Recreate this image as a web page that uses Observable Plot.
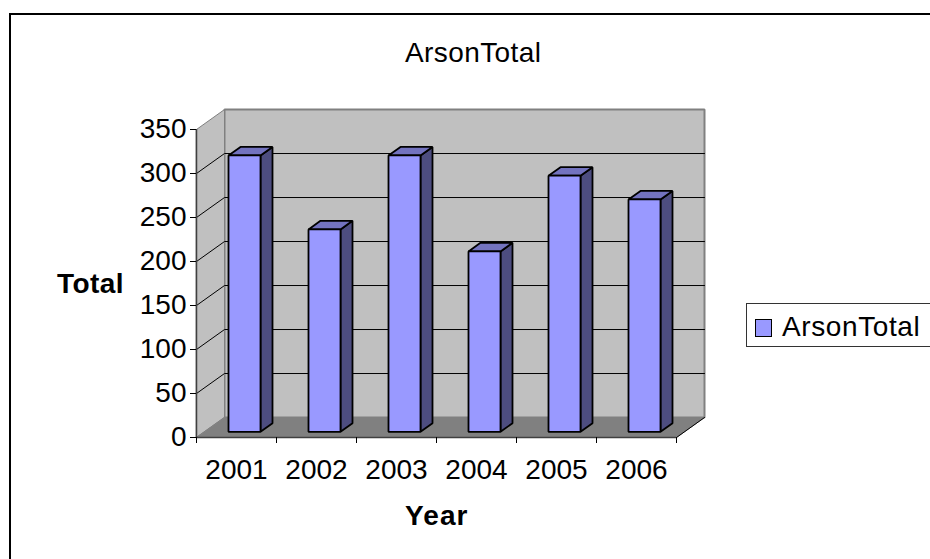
<!DOCTYPE html>
<html>
<head>
<meta charset="utf-8">
<script src="https://cdn.jsdelivr.net/npm/d3@7"></script>
<script src="https://cdn.jsdelivr.net/npm/@observablehq/plot@0.6"></script>
<style>
html,body{margin:0;padding:0;background:#fff;width:930px;height:559px;overflow:hidden;font-family:"Liberation Sans",Arial,sans-serif;color:#000}
#frame{position:absolute;left:8.5px;top:12.5px;width:1000px;height:1000px;border:2.5px solid #000;box-sizing:border-box}
.t{position:absolute;white-space:nowrap;line-height:1}
#chart{position:absolute;left:0;top:0}
#legend{position:absolute;left:745.5px;top:303px;width:300px;height:44px;border:1px solid #333;box-sizing:border-box;background:#fff}
#swatch{position:absolute;left:8px;top:15px;width:17.5px;height:17.5px;background:#9999FF;border:1.5px solid #000;box-sizing:border-box}
#legtext{position:absolute;left:35.5px;top:9px;font-size:28px;line-height:1;letter-spacing:.6px;white-space:nowrap}
</style>
</head>
<body>
<div id="frame"></div>
<div id="chart"></div>
<div class="t" id="title" style="left:405px;top:39px;font-size:28px;letter-spacing:.4px">ArsonTotal</div>
<div class="t" style="left:57px;top:269.5px;font-size:28px;font-weight:bold;letter-spacing:.4px">Total</div>
<div class="t" style="left:405px;top:502px;font-size:28px;font-weight:bold;letter-spacing:1.1px">Year</div>
<div id="legend"><div id="swatch"></div><div id="legtext">ArsonTotal</div></div>
<script>
const years = [2001, 2002, 2003, 2004, 2005, 2006];
const arsonTotal = [314, 230, 314, 205, 291, 264];
const yTicks = [0, 50, 100, 150, 200, 250, 300, 350];
const xEdges = [2000.5, 2001.5, 2002.5, 2003.5, 2004.5, 2005.5, 2006.5];

// Depth of the 3D box, in data units of each scale
const depthX = 0.35, depthY = 22.7;
const barHalf = 0.2, barNear = 8 / 28, barFar = 20 / 28;
const xMin = xEdges[0], xMax = xEdges[xEdges.length - 1], yMax = 350;

const pt = (x, v, d) => ({x: x + d * depthX, y: v + d * depthY});
const poly = (points, fill, stroke, strokeWidth) =>
  Plot.line(points, {x: "x", y: "y", fill, stroke, strokeWidth, curve: "linear-closed", strokeLinejoin: "miter"});

const backWall = [pt(xMin,0,1), pt(xMax,0,1), pt(xMax,yMax,1), pt(xMin,yMax,1)];
const sideWall = [pt(xMin,0,0), pt(xMin,0,1), pt(xMin,yMax,1), pt(xMin,yMax,0)];
const floor = [pt(xMin,0,0), pt(xMax,0,0), pt(xMax,0,1), pt(xMin,0,1)];

const grid = yTicks.slice(1, -1).flatMap(v => [
  {...pt(xMin,v,0), v}, {...pt(xMin,v,1), v}, {...pt(xMax,v,1), v}
]);

const barMarks = years.flatMap((yr, i) => {
  const v = arsonTotal[i], l = yr - barHalf, r = yr + barHalf;
  return [
    poly([pt(r,0,barNear), pt(r,0,barFar), pt(r,v,barFar), pt(r,v,barNear)], "#4D4D80", "#000", 1.8),
    poly([pt(l,v,barNear), pt(r,v,barNear), pt(r,v,barFar), pt(l,v,barFar)], "#7373BF", "#000", 1.8),
    poly([pt(l,0,barNear), pt(r,0,barNear), pt(r,v,barNear), pt(l,v,barNear)], "#9999FF", "#000", 1.8)
  ];
});

const chart = Plot.plot({
  width: 930,
  height: 559,
  marginLeft: 196,
  marginRight: 254,
  marginTop: 129,
  marginBottom: 122,
  style: {background: "transparent", fontFamily: "'Liberation Sans', Arial, sans-serif", color: "#000", overflow: "visible"},
  x: {type: "linear", domain: [xMin, xMax]},
  y: {type: "linear", domain: [0, yMax]},
  marks: [
    poly(backWall, "#C0C0C0", "#808080", 2),
    poly(sideWall, "#C0C0C0", "#808080", 1),
    poly(floor, "#808080", "#808080", 1),
    Plot.line(grid, {x: "x", y: "y", z: "v", stroke: "#000", strokeWidth: 1}),
    ...barMarks,
    Plot.ruleY([0], {x1: xMin, x2: xMax, stroke: "#404040", strokeWidth: 1.5}),
    Plot.ruleX([xMin], {y1: 0, y2: yMax, stroke: "#404040", strokeWidth: 1.5}),
    Plot.line([pt(xMax,0,0), pt(xMax,0,1)], {x: "x", y: "y", stroke: "#000", strokeWidth: 1}),
    Plot.axisY({ticks: yTicks, tickSize: 6, tickPadding: 4, fontSize: 28, label: null, anchor: "left", stroke: "#000", tickFormat: d => String(d)}),
    Plot.axisX({ticks: xEdges, tickSize: 6, tickFormat: () => "", label: null, anchor: "bottom", stroke: "#000"}),
    Plot.axisX({ticks: years, tickSize: 0, tickPadding: 22, fontSize: 28, label: null, anchor: "bottom", tickFormat: d => String(d)})
  ]
});
document.getElementById("chart").append(chart);
</script>
</body>
</html>
